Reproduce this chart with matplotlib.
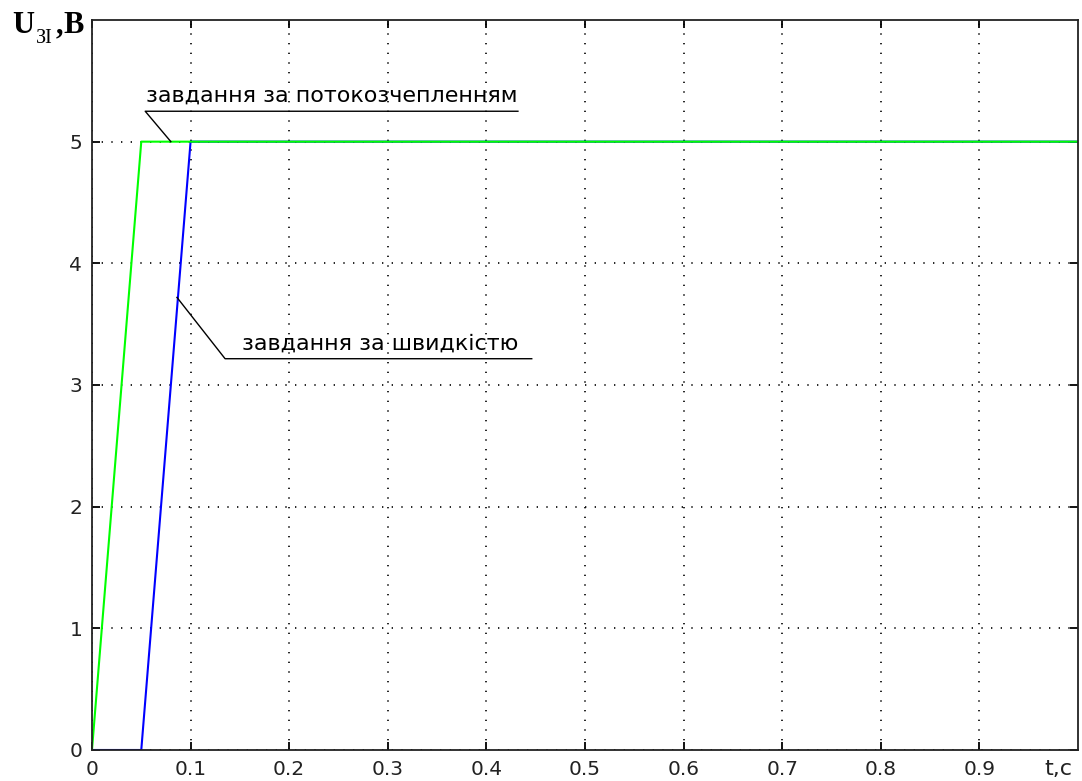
import matplotlib
matplotlib.use("Agg")
import matplotlib.pyplot as plt

# values
t_flux = [0.0, 0.05, 1.0]
u_flux = [0.0, 5.0, 5.0]
t_speed = [0.0, 0.05, 0.1, 1.0]
u_speed = [0.0, 0.0, 5.0, 5.0]
xticks = [0, 0.1, 0.2, 0.3, 0.4, 0.5, 0.6, 0.7, 0.8, 0.9]
xticklabels = ["0", "0.1", "0.2", "0.3", "0.4", "0.5", "0.6", "0.7", "0.8", "0.9"]
yticks = [0, 1, 2, 3, 4, 5]
label_flux = "завдання за потокозчепленням"
label_speed = "завдання за швидкістю"

plt.rcParams['font.family'] = ['DejaVu Sans']

fig = plt.figure(figsize=(10.82, 7.81), dpi=100)
ax = fig.add_axes([0.085, 0.0397, 0.9113, 0.9347])

ax.plot(t_speed, u_speed, color="#0000ff", lw=1.5)
ax.plot(t_flux, u_flux, color="#00ff00", lw=1.5)

ax.set_xlim(0, 1)
ax.set_ylim(0, 6)
ax.set_xticks(xticks)
ax.set_xticklabels(xticklabels)
ax.set_yticks(yticks)
ax.tick_params(direction="in", length=6, width=1.3, labelsize=14.5,
               labelcolor="#222222", top=True, right=True, pad=7)
ax.grid(True, color="black", linestyle=(0, (0.8, 5)), linewidth=1.2)
for s in ax.spines.values():
    s.set_linewidth(1.3)
    s.set_color("#222222")

# annotation: flux linkage reference
ax.plot([0.08, 0.054, 0.432], [5.0, 5.25, 5.25], color="black", lw=1.0)
ax.text(0.243, 5.30, label_flux, ha="center", va="bottom", fontsize=16)

# annotation: speed reference
ax.plot([0.0862, 0.135, 0.446], [3.72, 3.216, 3.216], color="black", lw=1.0)
ax.text(0.292, 3.26, label_speed, ha="center", va="bottom", fontsize=16)

# axis labels
fig.text(0.011, 0.9577, "U", fontsize=22, family="Liberation Serif",
         weight="bold", ha="left", va="baseline")
fig.text(0.0335, 0.945, "ЗI", fontsize=14.5, family="Liberation Serif",
         ha="left", va="baseline")
fig.text(0.0515, 0.9577, ",", fontsize=22, family="Liberation Serif",
         weight="bold", ha="left", va="baseline")
fig.text(0.0585, 0.9577, "В", fontsize=22, family="Liberation Serif",
         weight="bold", ha="left", va="baseline")
fig.text(0.965, 0.008, "t,c", fontsize=16, color="#222222",
         ha="left", va="baseline")

fig.savefig("out.png", dpi=100)
